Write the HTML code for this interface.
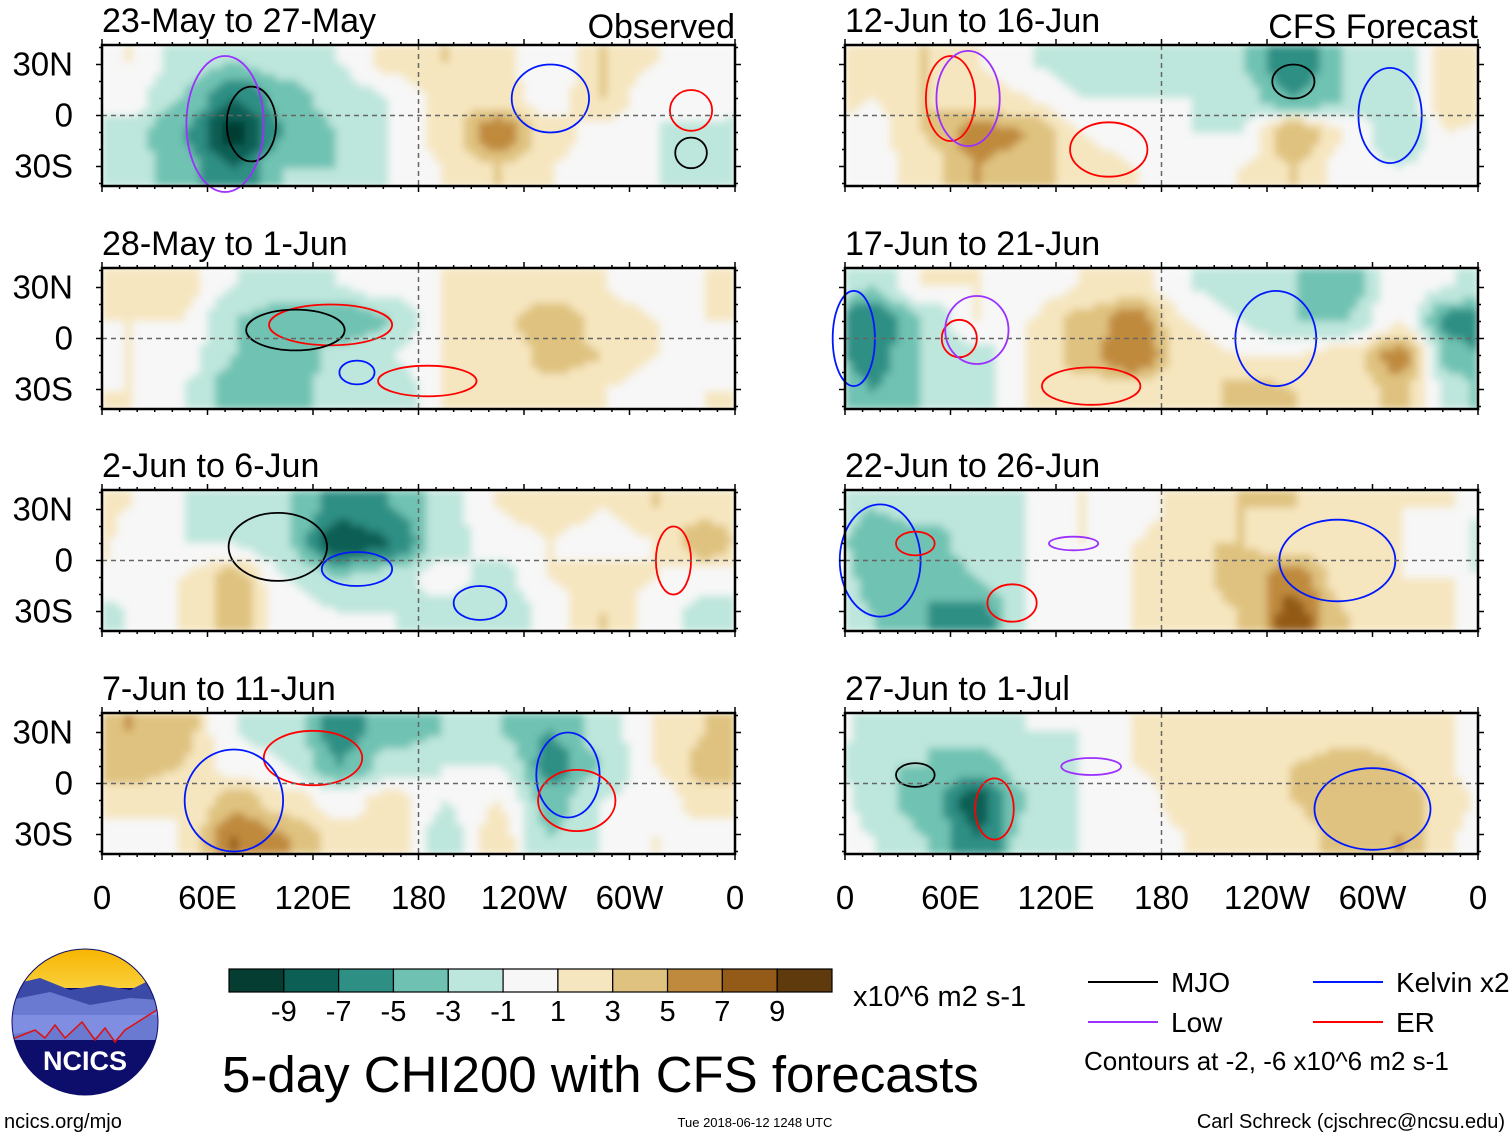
<!DOCTYPE html>
<html><head><meta charset="utf-8"><style>
html,body{margin:0;padding:0;background:#fff;}
body{width:1510px;height:1137px;overflow:hidden;font-family:"Liberation Sans",sans-serif;}
svg text{font-family:"Liberation Sans",sans-serif;}
</style></head><body>
<svg id="fig" width="1510" height="1137" viewBox="0 0 1510 1137" xmlns="http://www.w3.org/2000/svg">
<defs>
<filter id="bl" x="0" y="0" width="1" height="1" filterUnits="objectBoundingBox"><feGaussianBlur stdDeviation="4" edgeMode="duplicate"/></filter>
<linearGradient id="sky" x1="0" y1="0" x2="0" y2="1"><stop offset="0" stop-color="#f7b500"/><stop offset="1" stop-color="#f9cf3a"/></linearGradient>
<clipPath id="logoclip"><circle cx="85" cy="1022" r="73"/></clipPath>
</defs>
</svg>
<script>
// ---- data: CHI200 anomaly grid per panel (12 lon cols of 30deg from 0E, 4 lat bands N->S)
const panelTitles = ["23-May to 27-May","28-May to 1-Jun","2-Jun to 6-Jun","7-Jun to 11-Jun","12-Jun to 16-Jun","17-Jun to 21-Jun","22-Jun to 26-Jun","27-Jun to 1-Jul"];
const grid0 = [[1,-2,-3,-2,-1,2,3,2,-1,3,1,0],[0,-3,-7,-4,-2,-1,2,2,0,3,-1,1],[-2,-5,-10,-5,-3,-1,2,7,2,0,-1,-2],[-2,-4,-7,-3,-3,-1,1,3,1,0,-1,-3]];
const grid1 = [[1,2,-1,-2,-1,0,1,2,1,1,0,1],[1,1,-3,-4,-5,-3,1,2,5,2,1,1],[1,0,-3,-5,-2,-1,1,1,4,3,1,0],[1,-1,-4,-4,-2,-3,1,1,2,1,0,1]];
const grid2 = [[1,-1,-2,-3,-6,-5,-2,1,2,1,3,2],[0,-1,-1,-3,-9,-7,-2,0,1,0,1,5],[0,1,4,-1,-3,-2,0,-2,1,2,1,0],[-1,1,4,0,-1,-1,-2,-3,0,3,0,-2]];
const grid3 = [[5,4,-1,-2,-6,-4,-3,-3,-5,-2,1,3],[4,3,0,-1,-5,-2,-1,-1,-6,-3,1,4],[2,1,4,2,0,2,-1,1,-4,-1,0,2],[0,1,7,5,2,2,-2,2,-3,-1,1,0]];
const grid4 = [[1,3,1,-1,-2,-3,-3,-3,-7,-3,-2,2],[1,3,2,1,-1,-1,-1,-2,-5,-3,-3,3],[0,3,6,5,1,0,-1,-1,5,1,-3,1],[0,2,5,4,2,1,0,1,3,0,-1,0]];
const grid5 = [[-3,1,1,0,1,2,-1,-2,-3,-4,0,-1],[-7,-3,1,1,4,6,1,-1,-3,-3,1,-6],[-6,-3,-2,1,4,7,2,1,1,2,6,-4],[-5,-3,-2,1,2,2,1,4,3,1,4,-2]];
const grid6 = [[-3,-2,-2,-1,1,0,2,3,3,1,1,1],[-5,-4,-2,-1,1,1,3,3,2,1,1,0],[-4,-5,-3,-1,0,1,2,4,6,2,1,1],[-3,-5,-6,-1,0,1,2,3,8,3,2,1]];
const grid7 = [[-2,-3,-2,-1,-1,1,2,1,1,2,2,1],[-3,-3,-4,-2,-1,1,2,2,3,4,3,1],[-2,-4,-8,-3,-1,0,2,2,3,5,4,2],[-1,-3,-7,-2,-1,0,1,2,2,4,5,1]];
const grids = [grid0,grid1,grid2,grid3,grid4,grid5,grid6,grid7];
// contour ellipses per panel: [lon, lat, rxDeg, ryDeg, type]
const contours = [
 [[85,-5,14,22,"mjo"],[70,-5,22,40,"low"],[255,10,22,20,"kel"],[335,3,12,12,"er"],[335,-22,9,9,"mjo"]],
 [[130,8,35,12,"er"],[110,5,28,12,"mjo"],[185,-25,28,9,"er"],[145,-20,10,7,"kel"]],
 [[100,8,28,20,"mjo"],[145,-5,20,10,"kel"],[215,-25,15,10,"kel"],[325,0,10,20,"er"]],
 [[120,15,28,16,"er"],[75,-10,28,30,"kel"],[265,5,18,25,"kel"],[270,-10,22,18,"er"]],
 [[60,10,14,25,"er"],[70,10,18,28,"low"],[150,-20,22,16,"er"],[255,20,12,10,"mjo"],[310,0,18,28,"kel"]],
 [[5,0,12,28,"kel"],[65,0,10,11,"er"],[75,5,18,20,"low"],[140,-28,28,11,"er"],[245,0,23,28,"kel"]],
 [[20,0,23,33,"kel"],[40,10,11,7,"er"],[95,-25,14,11,"er"],[130,10,14,4,"low"],[280,0,33,24,"kel"]],
 [[85,-15,11,18,"er"],[40,5,11,7,"mjo"],[140,10,17,5,"low"],[300,-15,33,24,"kel"]]
];
const levelLabels = ["-9","-7","-5","-3","-1","1","3","5","7","9"];
const lonLabels = ["0","60E","120E","180","120W","60W","0"];
const latLabels = ["30N","0","30S"];
const palette = ["#063d33","#0c5f55","#2e8f84","#6fc2b2","#bde6dc","#f7f7f7","#f6e6bf","#dfc27f","#c08a3e","#935a18","#5e3a0c"];
const lineColors = {mjo:"#000",low:"#9b30ff",kel:"#0018ff",er:"#ff0000"};

const NS="http://www.w3.org/2000/svg";
const svg=document.getElementById('fig');
function mk(tag,attrs,parent){const e=document.createElementNS(NS,tag);for(const k in attrs)e.setAttribute(k,attrs[k]);(parent||svg).appendChild(e);return e;}
function colorOf(v){let i=Math.floor((v+11)/2);i=Math.max(0,Math.min(10,i));return palette[i];}

const colX=[102,845], rowY=[45,268,490,713], PW=633, PH=141;
function xScale(px,lon){return px+lon/360*PW;}
function yScale(py,lat){return py+PH/2-lat*1.7;}
function sm(t){return t*t*(3-2*t);}
function sample(data,fx,fy){
  const nr=data.length,nc=data[0].length;
  let x=fx-0.5,y=Math.max(0,Math.min(nr-1,fy-0.5));
  const x0=Math.floor(x),tx=sm(x-x0),y0=Math.floor(y),ty=sm(y-y0);
  const g=(i,j)=>data[Math.max(0,Math.min(nr-1,i))][((j%nc)+nc)%nc];
  const a=g(y0,x0)*(1-tx)+g(y0,x0+1)*tx, b=g(y0+1,x0)*(1-tx)+g(y0+1,x0+1)*tx;
  return a*(1-ty)+b*ty;
}

const SUBX=7, SUBY=6;
for(let p=0;p<8;p++){
  const c=p<4?0:1, r=p%4, px=colX[c], py=rowY[r];
  const g=mk('g',{});
  
  
  const t=mk('text',{x:px,y:py-13,'font-size':34,fill:'#000'},g);
  t.textContent=panelTitles[p];
  
  
  const f=mk('g',{filter:'url(#bl)'},g);
  const data=grids[p], nr=data.length, nc=data[0].length;
  const cw=PW/nc/SUBX, ch=PH/nr/SUBY;
  for(let i=0;i<nr*SUBY;i++)for(let j=0;j<nc*SUBX;j++){
    const v=sample(data,(j+0.5)/SUBX,(i+0.5)/SUBY);
    const rc=mk('rect',{x:px+j*cw,y:py+i*ch,width:cw+0.6,height:ch+0.6,fill:colorOf(v)},f);
    
    
  }
  const cg=mk('g',{},g);
  contours[p].forEach(e=>{
    const el=mk('ellipse',{cx:xScale(px,e[0]),cy:yScale(py,e[1]),rx:e[2]/360*PW,ry:e[3]*1.7,fill:'none',stroke:lineColors[e[4]],'stroke-width':1.8},cg);
    
    
  });
  mk('line',{x1:xScale(px,180),x2:xScale(px,180),y1:py,y2:py+PH,stroke:'#666','stroke-dasharray':'5,4','stroke-width':1.5},g);
  mk('line',{x1:px,x2:px+PW,y1:yScale(py,0),y2:yScale(py,0),stroke:'#666','stroke-dasharray':'5,4','stroke-width':1.5},g);
  for(let lon=0;lon<=360;lon+=10){
    const L=lon%60===0?6:3, x=xScale(px,lon);
    mk('line',{x1:x,x2:x,y1:py,y2:py-L,stroke:'#000','stroke-width':1.5},g);
    mk('line',{x1:x,x2:x,y1:py+PH,y2:py+PH+L,stroke:'#000','stroke-width':1.5},g);
  }
  for(let lat=-40;lat<=40;lat+=10){
    const L=lat%30===0?6:3, y=yScale(py,lat);
    mk('line',{x1:px,x2:px-L,y1:y,y2:y,stroke:'#000','stroke-width':1.5},g);
    mk('line',{x1:px+PW,x2:px+PW+L,y1:y,y2:y,stroke:'#000','stroke-width':1.5},g);
  }
  const fr=mk('rect',{x:px,y:py,width:PW,height:PH,fill:'none',stroke:'#000','stroke-width':2.5},g);
  
  
  if(c===0){
    [30,0,-30].forEach((lat,k)=>{const tt=mk('text',{x:73,y:yScale(py,lat)+11,'font-size':33,'text-anchor':'end'},g);tt.textContent=latLabels[k];
      
      });
  }
  if(r===3){
    lonLabels.forEach((s,k)=>{const tt=mk('text',{x:xScale(px,k*60),y:909,'font-size':33,'text-anchor':'middle'},g);tt.textContent=s;
      
      });
  }
}
let h=mk('text',{x:735,y:38,'font-size':34,'text-anchor':'end'});h.textContent='Observed';

h=mk('text',{x:1478,y:38,'font-size':34,'text-anchor':'end'});h.textContent='CFS Forecast';


const cb=mk('g',{});

const cbx=229,cbw=603/11;
palette.forEach((col,i)=>{const rr=mk('rect',{x:cbx+i*cbw,y:969,width:cbw,height:23,fill:col,stroke:'#000','stroke-width':1.2},cb);
  });
levelLabels.forEach((s,i)=>{const tt=mk('text',{x:cbx+(i+1)*cbw,y:1021,'font-size':29,'text-anchor':'middle'},cb);tt.textContent=s;
  });
h=mk('text',{x:853,y:1006,'font-size':29});h.textContent='x10^6 m2 s-1';

h=mk('text',{x:222,y:1092,'font-size':51});h.textContent='5-day CHI200 with CFS forecasts';


const lg=[["MJO","#000",1088,982],["Low","#9b30ff",1088,1022],["Kelvin x2","#0018ff",1313,982],["ER","#ff0000",1313,1022]];
lg.forEach(d=>{const gg=mk('g',{});
  mk('line',{x1:d[2],x2:d[2]+70,y1:d[3],y2:d[3],stroke:d[1],'stroke-width':2},gg);
  const tt=mk('text',{x:d[2]+83,y:d[3]+10,'font-size':28},gg);tt.textContent=d[0];});
h=mk('text',{x:1084,y:1070,'font-size':26});h.textContent='Contours at -2, -6 x10^6 m2 s-1';


h=mk('text',{x:4,y:1128,'font-size':20});h.textContent='ncics.org/mjo';

h=mk('text',{x:755,y:1127,'font-size':13,'text-anchor':'middle'});h.textContent='Tue 2018-06-12 1248 UTC';

h=mk('text',{x:1505,y:1128,'font-size':20,'text-anchor':'end'});h.textContent='Carl Schreck (cjschrec@ncsu.edu)';


const lo=mk('g',{'clip-path':'url(#logoclip)'});

mk('rect',{x:10,y:948,width:150,height:150,fill:'#0d0d6b'},lo);
mk('rect',{x:10,y:948,width:150,height:40,fill:'url(#sky)'},lo);
mk('path',{d:'M10 985 L40 978 L70 990 L100 985 L130 990 L160 975 L160 1035 L10 1035 Z',fill:'#3b4aa6'},lo);
mk('path',{d:'M10 1000 L50 992 L90 1005 L130 998 L160 1000 L160 1040 L10 1040 Z',fill:'#6a7ad0'},lo);
mk('path',{d:'M10 1035 L35 1030 L45 1038 L55 1025 L65 1038 L82 1022 L95 1038 L105 1028 L115 1040 L125 1030 L160 1008 L160 1015 L10 1015 Z',fill:'#7f8ee0'},lo);
mk('path',{d:'M10 1040 L35 1030 L45 1038 L55 1025 L65 1038 L82 1022 L95 1040 L105 1028 L115 1042 L125 1030 L160 1008',fill:'none',stroke:'#e01010','stroke-width':1.5},lo);
const lt=mk('text',{x:85,y:1070,'font-size':27,'font-weight':'bold',fill:'#fff','text-anchor':'middle'},lo);lt.textContent='NCICS';
mk('circle',{cx:85,cy:1022,r:73,fill:'none',stroke:'#0d0d6b','stroke-width':1});
</script>
</body></html>
